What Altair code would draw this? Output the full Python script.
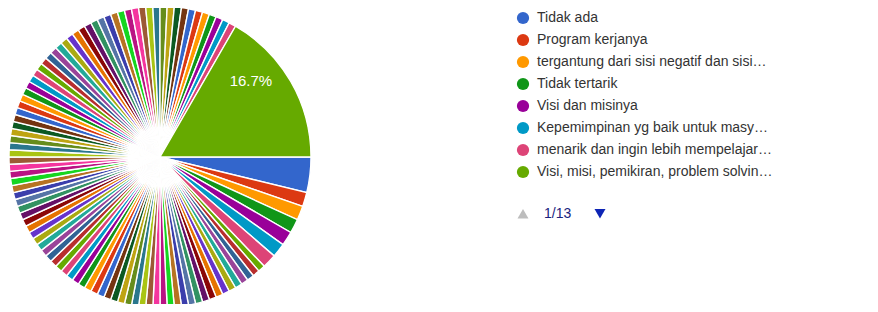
import math
import altair as alt
import pandas as pd

# ---- data -------------------------------------------------------------
legend_names = [
    "Tidak ada",
    "Program kerjanya",
    "tergantung dari sisi negatif dan sisi…",
    "Tidak tertarik",
    "Visi dan misinya",
    "Kepemimpinan yg baik untuk masy…",
    "menarik dan ingin lebih mempelajar…",
    "Visi, misi, pemikiran, problem solvin…",
]
other_names = ["Jawaban %d" % i for i in range(9, 102)]
names = legend_names + other_names

values = [
    5, 2, 2, 2, 2, 2, 2, 1,
    1, 1, 1, 1, 1, 1, 1, 1, 1, 1,
    1, 1, 1, 1, 1, 1, 1, 1, 1, 1,
    1, 1, 1, 1, 1, 1, 1, 1, 1, 1,
    1, 1, 1, 1, 1, 1, 1, 1, 1, 1,
    1, 1, 1, 1, 1, 1, 1, 1, 1, 1,
    1, 1, 1, 1, 1, 1, 1, 1, 1, 1,
    1, 1, 1, 1, 1, 1, 1, 1, 1, 1,
    1, 1, 1, 1, 1, 1, 1, 1, 1, 1,
    1, 1, 1, 1, 1, 1, 1, 1, 1, 1,
    1, 1, 22,
]
values = values[:len(names) - 1] + [22]

palette = [
    "#3366cc", "#dc3912", "#ff9900", "#109618", "#990099", "#0099c6",
    "#dd4477", "#66aa00", "#b82e2e", "#316395", "#994499", "#22aa99",
    "#aaaa11", "#6633cc", "#e67300", "#8b0707", "#651067", "#329262",
    "#5574a6", "#3b3eac", "#b77322", "#16d620", "#b91383", "#f4359e",
    "#9c5935", "#a9c413", "#2a778d", "#668d1c", "#bea413", "#0c5922",
    "#743411",
]
page_label = "1/13"

# ---- tables -----------------------------------------------------------
pie_df = pd.DataFrame({"name": names, "value": values, "idx": list(range(len(names)))})
legend_df = pd.DataFrame({"name": legend_names, "row": list(range(len(legend_names)))})
pager_df = pd.DataFrame({"row": [8.9], "label": [page_label]})

colors = [palette[i % len(palette)] for i in range(len(names))]
color_scale = alt.Scale(domain=names, range=colors)
theta_scale = alt.Scale(range=[math.pi / 2, math.pi / 2 + 2 * math.pi])
row_scale = alt.Scale(domain=[0, 1], range=[10, 32])

CX, CY, R = 152, 149, 151
FONT = "Liberation Sans"

base = alt.Chart(pie_df).encode(
    theta=alt.Theta("value:Q", stack=True, scale=theta_scale),
    order=alt.Order("idx:Q"),
    x=alt.value(CX),
    y=alt.value(CY),
)

pie = base.mark_arc(radius=R, stroke="white", strokeWidth=1.4).encode(
    color=alt.Color("name:N", scale=color_scale, legend=None, sort=None)
)

labels = base.transform_joinaggregate(total="sum(value)").transform_calculate(
    label="datum.value / datum.total >= 0.1 ? format(datum.value / datum.total, '.1%') : ''"
).mark_text(radius=105, dy=-24, color="white", fontSize=15, font=FONT).encode(text="label:N")

leg_circles = alt.Chart(legend_df).mark_circle(size=150, opacity=1).encode(
    x=alt.value(515),
    y=alt.Y("row:Q", scale=row_scale, axis=None),
    color=alt.Color("name:N", scale=color_scale, legend=None),
)
leg_text = alt.Chart(legend_df).mark_text(
    align="left", baseline="middle", fontSize=14, font=FONT, color="#333333"
).encode(
    x=alt.value(529),
    y=alt.Y("row:Q", scale=row_scale, axis=None),
    text="name:N",
)

up = alt.Chart(pager_df).mark_point(shape="triangle-up", filled=True, size=120, color="#bdbdbd", opacity=1).encode(
    x=alt.value(515), y=alt.Y("row:Q", scale=row_scale, axis=None)
)
page_txt = alt.Chart(pager_df).mark_text(
    align="left", baseline="middle", fontSize=14, font=FONT, color="#1a237e"
).encode(x=alt.value(536), y=alt.Y("row:Q", scale=row_scale, axis=None), text="label:N")
down = alt.Chart(pager_df).mark_point(shape="triangle-down", filled=True, size=120, color="#0d24b5", opacity=1).encode(
    x=alt.value(592), y=alt.Y("row:Q", scale=row_scale, axis=None)
)

chart = alt.layer(pie, labels, leg_circles, leg_text, up, page_txt, down).properties(
    width=862, height=296, padding=0, autosize=alt.AutoSizeParams(type="none")
).configure_view(stroke=None)

chart.save("out.html", embed_options={"renderer": "svg", "actions": False})
